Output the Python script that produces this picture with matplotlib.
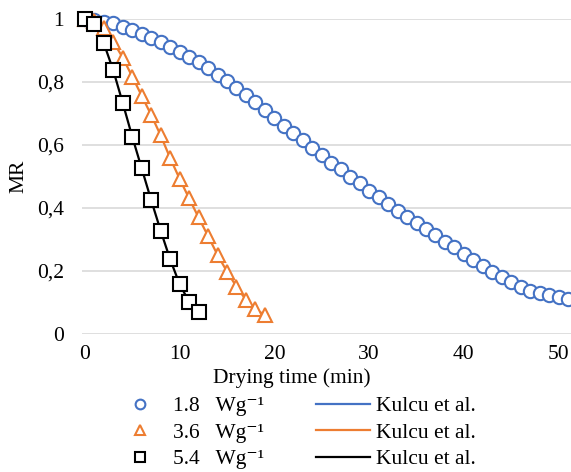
import matplotlib.pyplot as plt
from matplotlib.lines import Line2D

plt.rcParams['font.family'] = ['Liberation Serif', 'DejaVu Serif']

# measured moisture ratio, 1.8 / 3.6 / 5.4 W/g
t_18 = list(range(0, 52))
mr_18 = [1.000, 0.997, 0.992, 0.986, 0.976, 0.965, 0.951, 0.939, 0.926, 0.912,
         0.896, 0.880, 0.862, 0.843, 0.823, 0.802, 0.781, 0.758, 0.735, 0.711,
         0.684, 0.660, 0.637, 0.615, 0.591, 0.568, 0.543, 0.522, 0.499, 0.478,
         0.454, 0.433, 0.412, 0.390, 0.371, 0.350, 0.331, 0.312, 0.292, 0.274,
         0.253, 0.234, 0.216, 0.197, 0.181, 0.165, 0.149, 0.135, 0.128, 0.122,
         0.117, 0.110]
t_36 = list(range(0, 20))
mr_36 = [1.000, 0.995, 0.970, 0.928, 0.877, 0.817, 0.756, 0.695, 0.630, 0.558,
         0.492, 0.430, 0.369, 0.310, 0.250, 0.197, 0.149, 0.107, 0.077, 0.059]
t_54 = list(range(0, 13))
mr_54 = [1.000, 0.984, 0.923, 0.837, 0.733, 0.626, 0.525, 0.424, 0.327, 0.236,
         0.157, 0.101, 0.069]

# Kulcu et al. model curves
tm_18 = t_18 + [52]
mm_18 = mr_18 + [0.104]
tm_36 = t_36
mm_36 = mr_36
tm_54 = t_54
mm_54 = mr_54

blue = '#4472C4'
orange = '#ED7D31'
black = '#000000'

fig = plt.figure(figsize=(5.71, 4.72), dpi=100)
ax = fig.add_axes([0.1436, 0.2934, 0.8564, 0.6663])

ax.plot(tm_18, mm_18, color=blue, lw=1.6, zorder=2)
ax.plot(tm_36, mm_36, color=orange, lw=1.6, zorder=2)
ax.plot(tm_54, mm_54, color=black, lw=1.6, zorder=2)

ax.plot(t_18, mr_18, 'o', ms=9.6, mfc='white', mec=blue, mew=1.5, ls='none', zorder=3, clip_on=False)
ax.plot(t_36, mr_36, '^', ms=9.4, mfc='white', mec=orange, mew=1.5, ls='none', zorder=4, clip_on=False)
ax.plot(t_54, mr_54, 's', ms=10, mfc='white', mec=black, mew=1.5, ls='none', zorder=5, clip_on=False)

ax.set_xlim(-0.3, 51.3)
ax.set_ylim(0, 1)
ax.set_yticks([0, 0.2, 0.4, 0.6, 0.8, 1.0])
ax.set_yticklabels(['0', '0,2', '0,4', '0,6', '0,8', '1'])
ax.set_xticks([0, 10, 20, 30, 40, 50])
ax.tick_params(length=0, labelsize=15.5, pad=13, axis='y')
ax.tick_params(length=0, labelsize=15.5, pad=8, axis='x')
ax.grid(True, axis='y', color='#d9d9d9', lw=1.2)
ax.set_axisbelow(True)
for s in ax.spines.values():
    s.set_visible(False)

ax.set_ylabel('MR', fontsize=15.5, labelpad=6)
fig.text(0.511, 0.199, 'Drying time (min)', fontsize=15.5, ha='center', va='center')

handles = [
    Line2D([], [], marker='o', ls='none', ms=7, mfc='white', mec=blue, mew=1.5),
    Line2D([], [], marker='^', ls='none', ms=7, mfc='white', mec=orange, mew=1.5),
    Line2D([], [], marker='s', ls='none', ms=7, mfc='white', mec=black, mew=1.5),
    Line2D([], [], color=blue, lw=1.6),
    Line2D([], [], color=orange, lw=1.6),
    Line2D([], [], color=black, lw=1.6),
]
labels = ['1.8   Wg⁻¹', '3.6   Wg⁻¹', '5.4   Wg⁻¹',
          'Kulcu et al.', 'Kulcu et al.', 'Kulcu et al.']
fig.legend(handles, labels, ncol=2, loc='center', bbox_to_anchor=(0.5156, 0.083),
           frameon=False, fontsize=15.5, handlelength=2.5, handletextpad=0.3,
           columnspacing=2.4, labelspacing=0.3, borderpad=0)

fig.savefig('out.png', dpi=100)
